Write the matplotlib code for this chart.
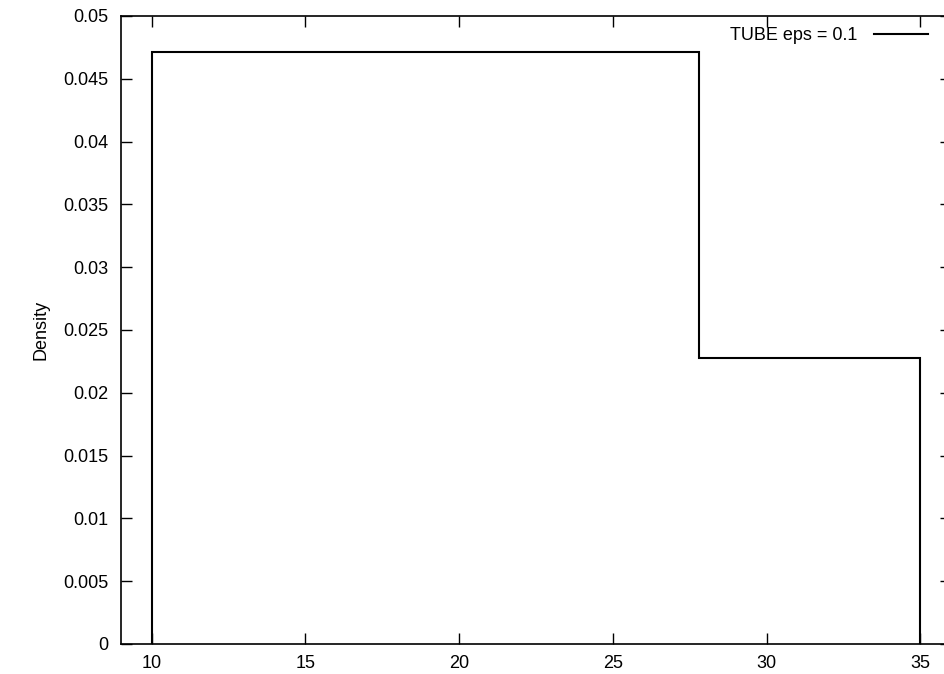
import numpy as np
import matplotlib
matplotlib.use("Agg")
import matplotlib.pyplot as plt

# bordes de las clases y densidad del histograma
edges = [10, 27.8, 35]
density = [0.0471, 0.0228]
label = "TUBE eps = 0.1"

xticks = [10, 15, 20, 25, 30, 35]
yticks = np.arange(0, 0.0501, 0.005)
yticklabels = ["0", "0.005", "0.01", "0.015", "0.02", "0.025",
               "0.03", "0.035", "0.04", "0.045", "0.05"]

plt.rcParams['font.family'] = ['Liberation Sans', 'DejaVu Sans']
plt.rcParams['font.size'] = 13

fig = plt.figure(figsize=(9.44, 6.74), dpi=100)
ax = fig.add_axes([121/944, 30/674, 830/944, 628/674])

ax.stairs(density, edges, color='k', lw=1.5, baseline=0, label=label)

ax.set_xlim(9, 36)
ax.set_ylim(0, 0.05)
ax.set_xticks(xticks)
ax.set_yticks(yticks)
ax.set_yticklabels(yticklabels)
ax.tick_params(direction='in', length=8, width=1, top=True, right=True,
               labelsize=13)
ax.tick_params(axis='y', pad=9)
ax.tick_params(axis='x', pad=8)
for s in ax.spines.values():
    s.set_linewidth(1.2)
ax.set_ylabel("Density", labelpad=10)

ax.legend(loc='upper right', bbox_to_anchor=(928/944, 1 - 27/674),
          bbox_transform=fig.transFigure, frameon=False, markerfirst=False,
          handlelength=3.0, handletextpad=0.9, borderpad=0, borderaxespad=0,
          fontsize=13)

fig.savefig("out.png", dpi=100)
